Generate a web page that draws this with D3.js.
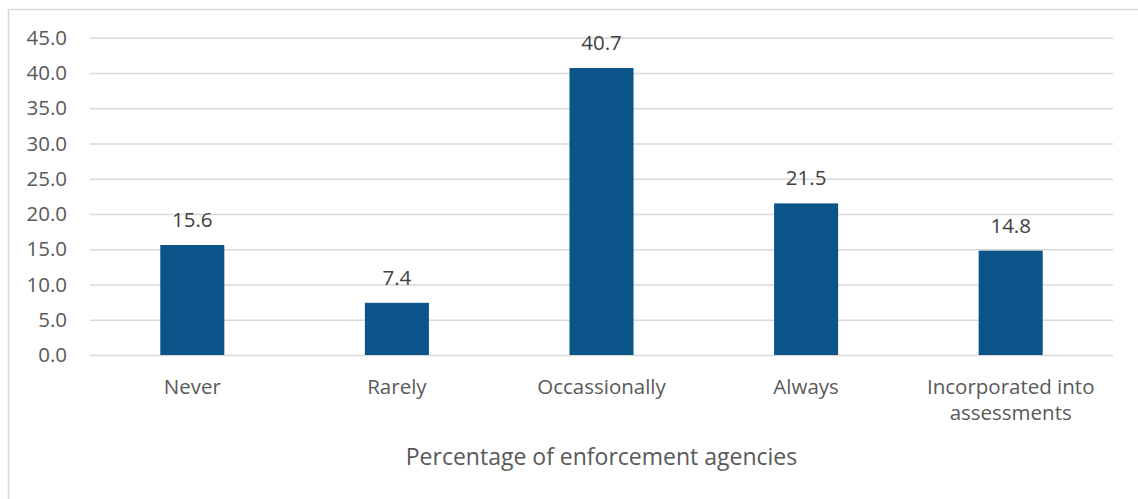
<!DOCTYPE html>
<html>
<head>
<meta charset="utf-8">
<script src="https://cdn.jsdelivr.net/npm/d3@7"></script>
<style>
  html, body { margin: 0; padding: 0; background: #fff; }
  svg { display: block; font-family: "Open Sans", "Noto Sans", sans-serif; }
</style>
</head>
<body>
<svg id="chart" width="1138" height="499"></svg>
<script>
// Share of enforcement agencies by how often the practice is used
const categories = ["Never", "Rarely", "Occassionally", "Always", "Incorporated into assessments"];
const values = [15.6, 7.4, 40.7, 21.5, 14.8];
const yTicks = [0, 5, 10, 15, 20, 25, 30, 35, 40, 45];
const axisTitle = "Percentage of enforcement agencies";

const svg = d3.select("#chart");
const textColor = "#595959";
const gridColor = "#d9d9d9";
const barColor = "#0b5489";
const labelSize = "20.5px";

// Outer chart frame (continues past the right and bottom edges)
svg.append("rect")
  .attr("x", 8.5).attr("y", 9.5)
  .attr("width", 1200).attr("height", 600)
  .attr("fill", "none").attr("stroke", gridColor).attr("stroke-width", 1.5);

const plot = { left: 90, right: 1113, top: 37.7, bottom: 355 };

const x = d3.scaleBand()
  .domain(categories)
  .range([plot.left, plot.right])
  .paddingInner(0.687)
  .paddingOuter(0.3435);

const y = d3.scaleLinear()
  .domain([0, 45])
  .range([plot.bottom, plot.top]);

// Horizontal gridlines with value labels
const yAxis = d3.axisLeft(y)
  .tickValues(yTicks)
  .tickFormat(d3.format(".1f"))
  .tickSize(-(plot.right - plot.left))
  .tickPadding(23);

const yg = svg.append("g")
  .attr("transform", `translate(${plot.left},0)`)
  .call(yAxis);
yg.select(".domain").remove();
yg.selectAll(".tick line").attr("stroke", gridColor).attr("stroke-width", 1.5);
yg.selectAll(".tick text")
  .attr("fill", textColor)
  .style("font-size", labelSize)
  .style("font-family", "\"Open Sans\", sans-serif");

// Bars
svg.append("g").selectAll("rect")
  .data(values)
  .join("rect")
  .attr("x", (d, i) => x(categories[i]))
  .attr("y", d => y(d))
  .attr("width", x.bandwidth())
  .attr("height", d => y(0) - y(d))
  .attr("fill", barColor);

// Value labels above bars
svg.append("g").selectAll("text")
  .data(values)
  .join("text")
  .attr("x", (d, i) => x(categories[i]) + x.bandwidth() / 2)
  .attr("y", d => y(d) - 18)
  .attr("text-anchor", "middle")
  .attr("fill", "#404040")
  .style("font-size", labelSize)
  .text(d => d3.format(".1f")(d));

// Category labels, wrapped to the band step
const xAxis = d3.axisBottom(x).tickSize(0).tickPadding(0);
const xg = svg.append("g")
  .attr("transform", `translate(0,${plot.bottom})`)
  .call(xAxis);
xg.select(".domain").remove();
xg.selectAll(".tick text")
  .attr("fill", textColor)
  .style("font-size", labelSize)
  .style("font-family", "\"Open Sans\", sans-serif")
  .attr("y", 0)
  .attr("dy", null)
  .each(function (d) {
    const t = d3.select(this);
    const words = d.split(" ");
    const maxW = 180;
    t.text(null);
    let lines = [];
    let line = [];
    const probe = t.append("tspan");
    words.forEach(w => {
      line.push(w);
      probe.text(line.join(" "));
      if (probe.node().getComputedTextLength() > maxW && line.length > 1) {
        line.pop();
        lines.push(line.join(" "));
        line = [w];
      }
    });
    lines.push(line.join(" "));
    probe.remove();
    lines.forEach((l, i) => {
      t.append("tspan")
        .attr("x", 0)
        .attr("y", 39 + i * 26)
        .text(l);
    });
  });

// Axis title
svg.append("text")
  .attr("x", (plot.left + plot.right) / 2)
  .attr("y", 465)
  .attr("text-anchor", "middle")
  .attr("fill", textColor)
  .style("font-size", "23px")
  .text(axisTitle);
</script>
</body>
</html>
